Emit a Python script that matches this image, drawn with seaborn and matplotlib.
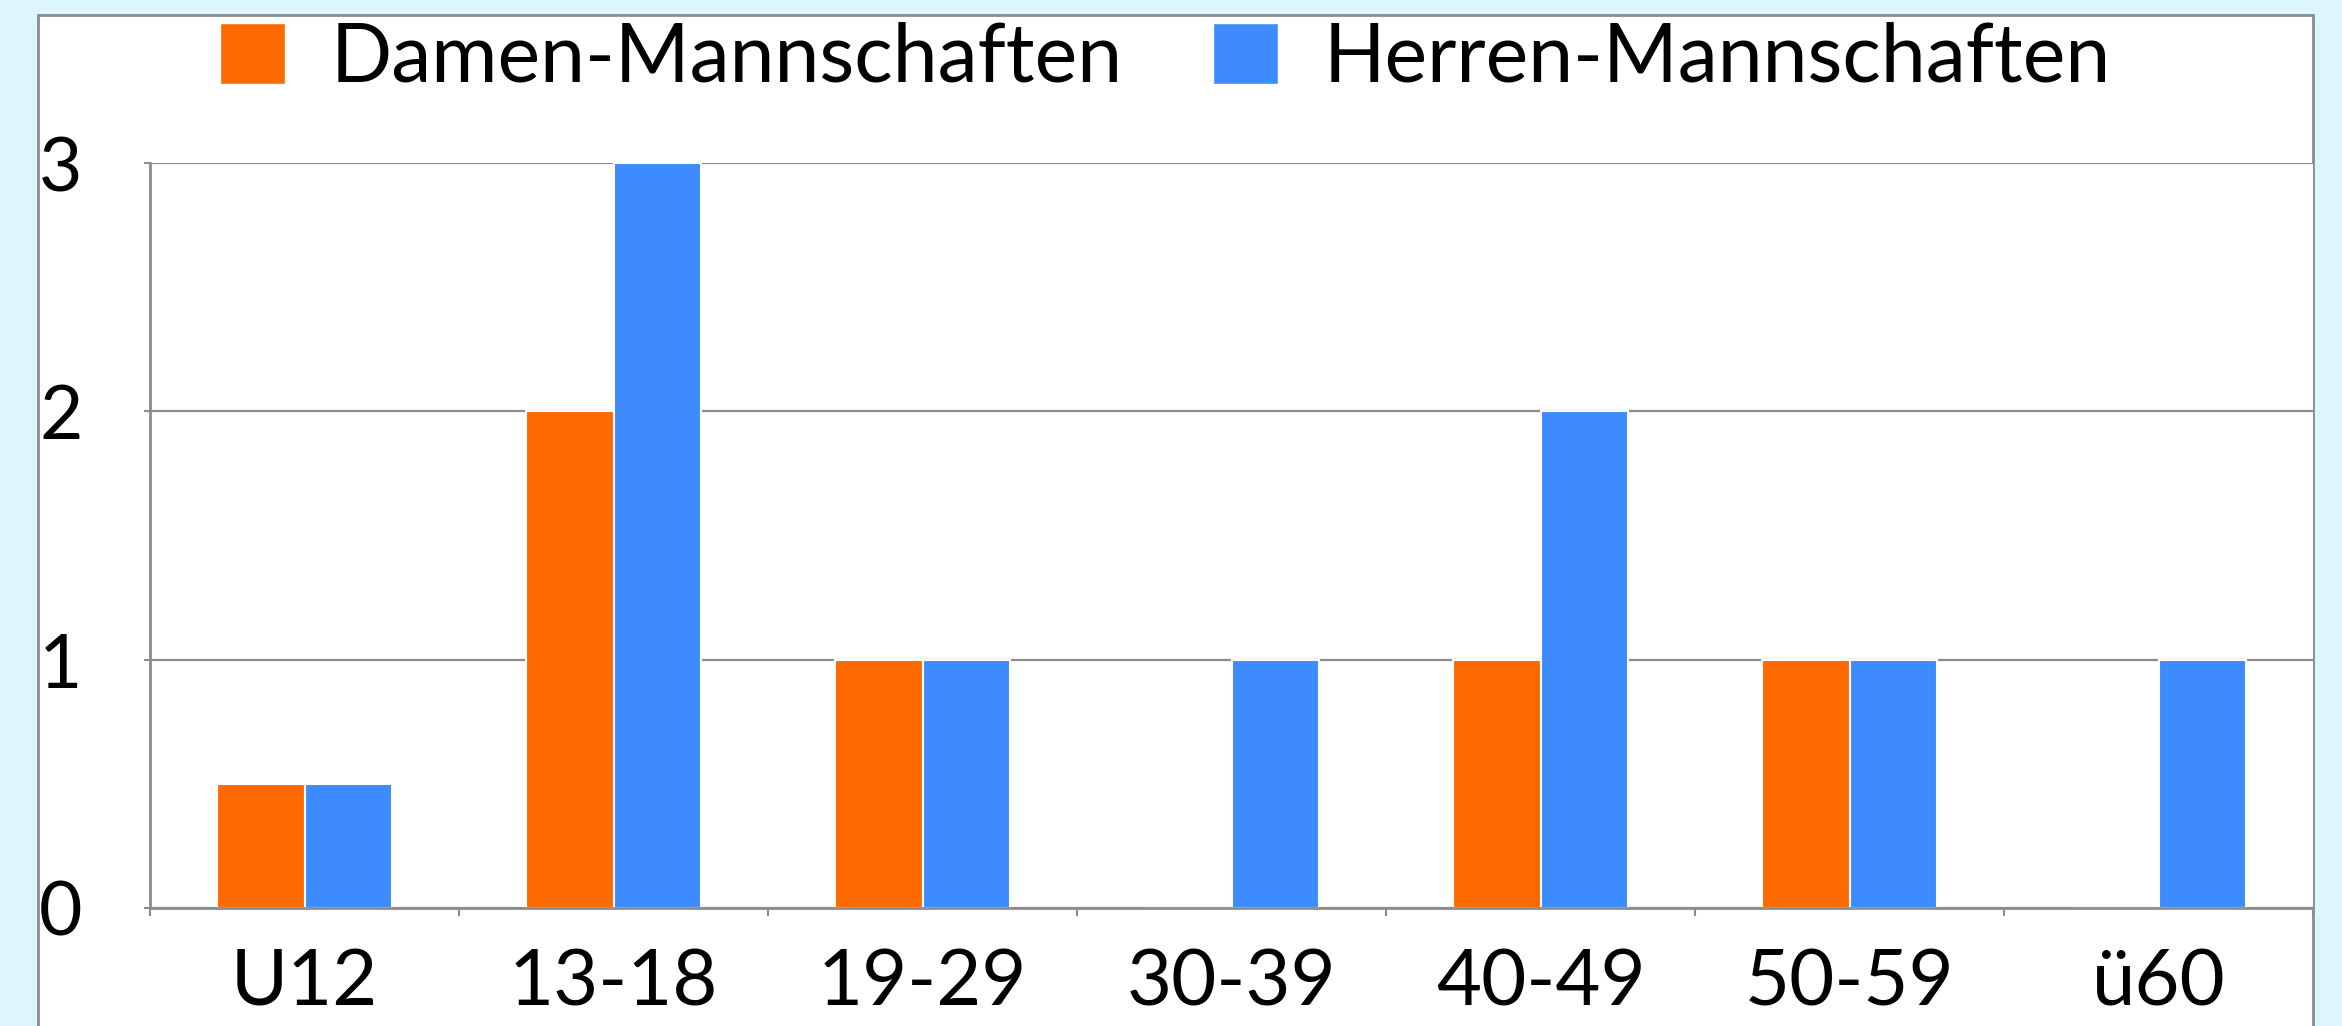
import matplotlib
matplotlib.use("Agg")
import matplotlib.pyplot as plt
from matplotlib.patches import Rectangle, Patch
import seaborn as sns
import pandas as pd
import numpy as np

categories = ["U12", "13-18", "19-29", "30-39", "40-49", "50-59", "ü60"]
damen = [0.5, 2, 1, 0, 1, 1, 0]
herren = [0.5, 3, 1, 1, 2, 1, 1]
series_names = ["Damen-Mannschaften", "Herren-Mannschaften"]
colors = ["#FF6A00", "#3D8BFF"]
yticks = [0, 1, 2, 3]

df = pd.DataFrame({
    "Kategorie": categories * 2,
    "Anzahl": damen + herren,
    "Serie": [series_names[0]] * len(categories) + [series_names[1]] * len(categories),
})

sns.set_theme(style="white")
plt.rcParams["font.family"] = ["Lato", "DejaVu Sans"]
plt.rcParams["text.color"] = "black"

W, H = 2342, 1026
fig = plt.figure(figsize=(W / 100, H / 100), dpi=100, facecolor="#DCF6FB")

# white panel with gray border
panel = Rectangle((38 / W, -0.05), (2313 - 38) / W, 1.05 - 15 / H,
                  transform=fig.transFigure, facecolor="white",
                  edgecolor="#8C8C8C", linewidth=2, zorder=0)
fig.add_artist(panel)

ax = fig.add_axes([150 / W, (H - 908) / H, (2313 - 150) / W, (908 - 163) / H])
ax.set_facecolor("white")

sns.barplot(data=df, x="Kategorie", y="Anzahl", hue="Serie", order=categories,
            hue_order=series_names, palette=colors, width=0.565,
            edgecolor="white", linewidth=1.5, ax=ax, legend=False, saturation=1)

ax.set_ylim(0, 3)
ax.set_xlim(-0.5, len(categories) - 0.5)
ax.set_yticks(yticks)
ax.set_yticklabels([str(t) for t in yticks])
ax.set_xlabel("")
ax.set_ylabel("")

gray = "#8C8C8C"
ax.set_axisbelow(True)
ax.yaxis.grid(True, color=gray, linewidth=1.6)
ax.xaxis.grid(False)
for s in ["top", "right"]:
    ax.spines[s].set_visible(False)
for s in ["left", "bottom"]:
    ax.spines[s].set_color(gray)
    ax.spines[s].set_linewidth(2)
    ax.spines[s].set_zorder(5)

fs = 54
ax.tick_params(axis="y", which="major", length=4.5, width=1.5, color=gray,
               direction="out", pad=44, labelsize=fs, labelcolor="black", left=True)
ax.tick_params(axis="x", which="major", length=0, pad=29, labelsize=56,
               labelcolor="black")
ax.set_xticks(np.arange(-0.5, len(categories), 1.0), minor=True)
ax.tick_params(axis="x", which="minor", length=6, width=1.5, color=gray,
               direction="out", bottom=True)

handles = [Patch(facecolor=c, edgecolor="white", linewidth=1) for c in colors]
fig.legend(handles, series_names, loc="center", bbox_to_anchor=(0.4977, 0.943),
           ncol=2, frameon=False, fontsize=58, handlelength=0.8,
           handleheight=0.8, handletextpad=0.57, columnspacing=1.12,
           borderpad=0, borderaxespad=0, labelcolor="black")

fig.savefig("out.png", dpi=100, facecolor=fig.get_facecolor())
